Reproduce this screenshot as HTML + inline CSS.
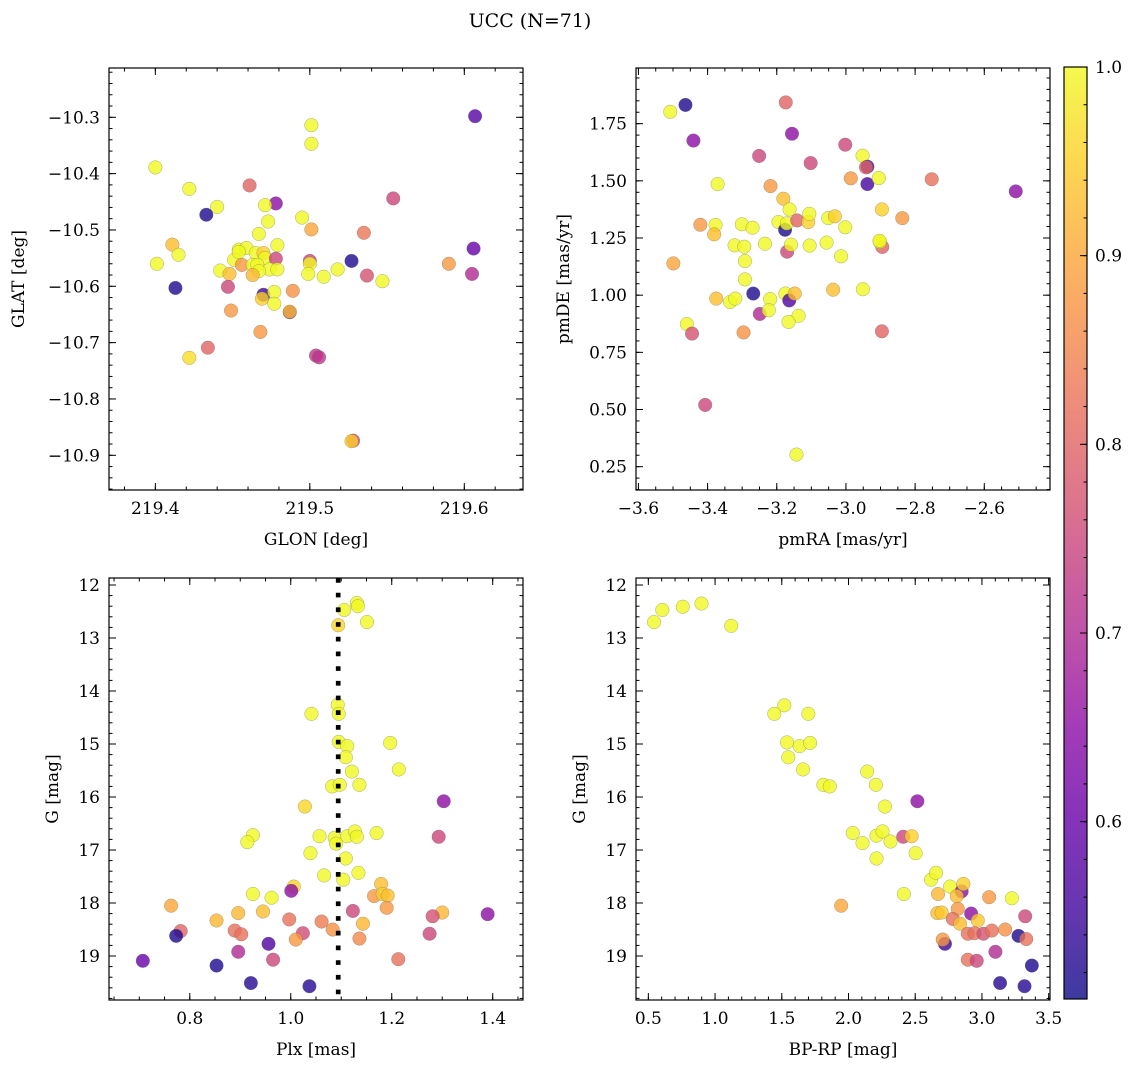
<!DOCTYPE html>
<html><head><meta charset="utf-8">
<style>
html,body{margin:0;padding:0;background:#fff;}
svg{display:block;font-family:"DejaVu Serif","Liberation Serif",serif;}
</style></head>
<body>
<svg id="fig" width="1136" height="1067" viewBox="0 0 1136 1067" xmlns="http://www.w3.org/2000/svg">
<text x="530" y="27" font-size="19" text-anchor="middle">UCC (N=71)</text>
</svg>
<script>
// ---------- data ----------
const glon = [219.607,219.501,219.501,219.400,219.422,219.461,219.478,219.471,219.440,219.433,219.554,219.495,219.473,219.501,219.535,219.467,219.479,219.411,219.415,219.401,219.606,219.527,219.590,219.605,219.500,219.500,219.499,219.509,219.518,219.537,219.547,219.454,219.459,219.451,219.456,219.465,219.470,219.471,219.463,219.466,219.478,219.474,219.479,219.467,219.463,219.442,219.448,219.454,219.447,219.413,219.470,219.469,219.477,219.477,219.489,219.487,219.487,219.449,219.468,219.434,219.422,219.504,219.506,219.528,219.527];
const glat = [-10.298,-10.314,-10.347,-10.389,-10.427,-10.421,-10.453,-10.456,-10.459,-10.473,-10.444,-10.478,-10.485,-10.499,-10.505,-10.507,-10.527,-10.526,-10.544,-10.560,-10.533,-10.555,-10.560,-10.578,-10.555,-10.560,-10.578,-10.583,-10.570,-10.581,-10.591,-10.535,-10.532,-10.553,-10.562,-10.541,-10.541,-10.550,-10.562,-10.562,-10.551,-10.570,-10.570,-10.573,-10.580,-10.572,-10.578,-10.539,-10.601,-10.603,-10.615,-10.622,-10.610,-10.631,-10.608,-10.646,-10.645,-10.643,-10.681,-10.709,-10.727,-10.723,-10.726,-10.874,-10.875];
const prob1 = [0.58,1,1,1,1,0.8,0.65,1,1,0.52,0.75,1,1,0.9,0.83,1,1,0.93,1,1,0.6,0.52,0.88,0.7,0.75,1,1,1,1,0.77,1,1,1,1,0.88,1,0.95,1,1,1,0.75,1,1,1,0.92,1,0.93,1,0.75,0.52,0.55,0.95,1,1,0.87,0.6,0.93,0.88,0.88,0.8,0.97,0.72,0.72,0.75,0.95];

const pmra = [-3.464,-3.508,-3.174,-3.441,-3.156,-3.251,-3.002,-3.102,-2.952,-2.938,-2.942,-2.986,-2.938,-2.905,-2.752,-2.509,-3.371,-3.218,-3.181,-3.163,-2.896,-2.837,-3.421,-3.377,-3.381,-3.301,-3.270,-3.195,-3.176,-3.171,-3.141,-3.109,-3.106,-3.051,-3.032,-3.002,-2.895,-2.902,-3.322,-3.294,-3.234,-3.170,-3.159,-3.105,-3.056,-3.014,-3.499,-3.292,-3.292,-3.268,-3.375,-3.335,-3.320,-3.219,-3.249,-3.223,-3.175,-3.164,-3.148,-3.037,-2.951,-3.137,-3.166,-3.460,-3.445,-3.296,-2.896,-3.407,-3.143,-2.903];
const pmde = [1.832,1.802,1.843,1.676,1.706,1.609,1.658,1.578,1.610,1.562,1.559,1.511,1.486,1.512,1.507,1.454,1.486,1.477,1.422,1.375,1.375,1.337,1.308,1.307,1.266,1.310,1.295,1.320,1.286,1.314,1.327,1.320,1.356,1.337,1.345,1.297,1.211,1.233,1.218,1.212,1.225,1.190,1.221,1.217,1.230,1.170,1.139,1.149,1.069,1.007,0.985,0.970,0.985,0.983,0.918,0.934,1.007,0.977,1.007,1.024,1.026,0.910,0.883,0.874,0.832,0.837,0.842,0.520,0.303,1.238];
const prob2 = [0.52,1,0.8,0.65,0.65,0.75,0.75,0.75,1,0.55,0.8,0.88,0.56,1,0.82,0.65,1,0.88,0.93,1,0.95,0.88,0.88,1,0.93,1,1,1,0.52,1,0.8,0.95,1,1,0.95,1,0.8,1,1,1,1,0.75,1,1,1,1,0.9,1,1,0.52,0.93,1,1,1,0.7,1,1,0.57,0.93,0.93,1,1,1,1,0.77,0.87,0.8,0.75,1,1];

const plx = [1.131,1.133,1.106,1.151,1.094,1.093,1.095,1.041,1.095,1.112,1.197,1.109,1.121,1.214,1.082,1.097,1.136,1.028,1.303,1.293,0.925,0.914,1.057,1.087,1.090,1.112,1.127,1.131,1.170,1.039,1.109,1.066,1.134,1.104,1.179,1.165,1.182,1.192,1.190,1.006,1.001,0.925,0.962,0.763,0.896,0.945,0.853,1.123,1.300,1.281,1.390,0.997,1.061,1.143,1.083,0.889,0.902,1.024,1.010,1.136,0.782,0.773,1.275,0.956,0.896,0.965,1.213,0.707,0.853,0.921,1.037];
const gmag3 = [12.34,12.40,12.47,12.70,12.76,14.26,14.43,14.43,14.96,15.04,14.98,15.25,15.52,15.48,15.80,15.77,15.77,16.18,16.08,16.75,16.72,16.85,16.74,16.77,16.88,16.74,16.65,16.75,16.68,17.06,17.16,17.48,17.43,17.56,17.64,17.87,17.83,17.86,18.09,17.69,17.77,17.83,17.90,18.05,18.19,18.16,18.33,18.15,18.18,18.25,18.21,18.31,18.35,18.39,18.50,18.52,18.59,18.57,18.69,18.67,18.53,18.62,18.58,18.77,18.92,19.07,19.06,19.09,19.18,19.51,19.57];
const prob3 = [1,1,1,1,0.96,1,1,1,1,1,1,1,1,1,1,1,1,0.96,0.65,0.75,1,1,1,1,1,1,1,1,1,1,1,1,1,1,0.93,0.88,0.95,0.93,0.88,0.96,0.65,1,1,0.9,0.92,0.93,0.92,0.75,0.92,0.77,0.65,0.82,0.84,0.92,0.87,0.82,0.82,0.76,0.88,0.86,0.8,0.52,0.75,0.57,0.7,0.75,0.82,0.6,0.52,0.53,0.53];
const plxMean = [1.094];

const bprp = [0.543,0.605,0.758,0.898,1.121,1.444,1.519,1.699,1.539,1.634,1.712,1.549,1.659,1.812,1.860,2.140,2.205,2.273,2.516,2.032,2.105,2.210,2.255,2.315,2.410,2.473,2.210,2.503,2.415,1.945,2.618,2.656,2.761,2.848,2.861,2.671,2.811,3.054,3.224,2.666,2.698,2.819,2.919,2.781,2.836,2.969,3.324,2.894,2.944,3.011,3.074,3.174,3.274,3.332,2.723,2.706,3.101,2.894,2.961,3.374,3.136,3.319];
const gmag4 = [12.70,12.47,12.41,12.35,12.77,14.43,14.27,14.43,14.97,15.04,14.98,15.25,15.48,15.77,15.80,15.52,15.77,16.18,16.08,16.68,16.87,16.73,16.65,16.84,16.75,16.74,17.16,17.06,17.83,18.05,17.56,17.43,17.69,17.78,17.64,17.83,17.87,17.89,17.91,18.19,18.18,18.11,18.20,18.30,18.39,18.33,18.25,18.58,18.57,18.58,18.52,18.50,18.62,18.68,18.77,18.69,18.92,19.07,19.09,19.18,19.51,19.57];
const prob4 = [1,1,1,1,1,1,1,1,1,1,1,1,1,1,1,1,1,1,0.65,1,1,1,1,1,0.75,0.95,1,1,1,0.9,1,1,1,0.65,0.95,0.92,0.93,0.88,1,0.93,0.94,0.88,0.65,0.82,0.93,0.94,0.75,0.82,0.82,0.77,0.82,0.87,0.52,0.82,0.55,0.88,0.7,0.82,0.75,0.52,0.53,0.53];

const cbTicks = [0.6,0.7,0.8,0.9,1.0];

// ---------- helpers ----------
const NS = "http://www.w3.org/2000/svg";
const fig = document.getElementById("fig");
const VMIN = 0.506, VMAX = 1.0;
const plasma = [[13,8,135],[65,4,157],[106,0,168],[143,13,164],[177,42,144],[204,71,120],[225,100,98],[242,132,75],[252,166,54],[252,206,37],[240,249,33]];
function cmap(v){
  let t=(v-VMIN)/(VMAX-VMIN); t=Math.max(0,Math.min(1,t));
  const f=t*10, i=Math.min(9,Math.floor(f)), r=f-i;
  const a=plasma[i], b=plasma[i+1];
  return "rgb("+a.map((c,k)=>Math.round(c+(b[k]-c)*r)).join(",")+")";
}
function el(tag, attrs, parent){
  const e=document.createElementNS(NS,tag);
  for(const k in attrs) e.setAttribute(k,attrs[k]);
  (parent||fig).appendChild(e); return e;
}
function fmt(v,d){ const s=v.toFixed(d); return s.replace("-","\u2212"); }

function panel(cfg){
  const g=el("g",{});
  
  
  const {x0,y0,w,h}=cfg;
  const sx=v=>x0+(v-cfg.xmin)/(cfg.xmax-cfg.xmin)*w;
  const sy=cfg.invertY ? (v=>y0+(v-cfg.ymin)/(cfg.ymax-cfg.ymin)*h) : (v=>y0+h-(v-cfg.ymin)/(cfg.ymax-cfg.ymin)*h);
  // points
  const pg=el("g",{},g);
  
  
  for(let i=0;i<cfg.xs.length;i++){
    const c=el("circle",{cx:sx(cfg.xs[i]),cy:sy(cfg.ys[i]),r:6.8,fill:cmap(cfg.ps[i]),"fill-opacity":0.8,stroke:"#666","stroke-opacity":0.55,"stroke-width":0.5},pg);
    
    
  }
  if(cfg.vline){
    for(const v of cfg.vline){
      const l=el("line",{x1:sx(v),x2:sx(v),y1:y0,y2:y0+h,stroke:"#000","stroke-width":4.7,"stroke-dasharray":"4.7 10"},g);
      
      
    }
  }
  // frame
  const fr=el("rect",{x:x0,y:y0,width:w,height:h,fill:"none",stroke:"#000","stroke-width":1.2},g);
  
  
  // ticks
  const tg=el("g",{stroke:"#000","stroke-width":1},g);
  const eps=1e-9;
  for(let v=Math.ceil(cfg.xmin/cfg.xminor-eps)*cfg.xminor; v<=cfg.xmax+eps; v+=cfg.xminor){
    const X=sx(v);
    el("line",{x1:X,x2:X,y1:y0+h,y2:y0+h-3.5},tg); el("line",{x1:X,x2:X,y1:y0,y2:y0+3.5},tg);
  }
  for(let v=Math.ceil(cfg.ymin/cfg.yminor-eps)*cfg.yminor; v<=cfg.ymax+eps; v+=cfg.yminor){
    const Y=sy(v);
    el("line",{x1:x0,x2:x0+3.5,y1:Y,y2:Y},tg); el("line",{x1:x0+w,x2:x0+w-3.5,y1:Y,y2:Y},tg);
  }
  for(const v of cfg.xticks){
    const X=sx(v);
    el("line",{x1:X,x2:X,y1:y0+h,y2:y0+h-7},tg); el("line",{x1:X,x2:X,y1:y0,y2:y0+7},tg);
    const t=el("text",{x:X,y:y0+h+24,"font-size":17,"text-anchor":"middle"},g);
    t.textContent=fmt(v,cfg.xdec);
    
    
  }
  for(const v of cfg.yticks){
    const Y=sy(v);
    el("line",{x1:x0,x2:x0+7,y1:Y,y2:Y},tg); el("line",{x1:x0+w,x2:x0+w-7,y1:Y,y2:Y},tg);
    const t=el("text",{x:x0-9,y:Y+6,"font-size":17,"text-anchor":"end"},g);
    t.textContent=fmt(v,cfg.ydec);
    
    
  }
  const xl=el("text",{x:x0+w/2,y:y0+h+55,"font-size":17,"text-anchor":"middle"},g);
  xl.textContent=cfg.xlabel;
  
  
  const yl=el("text",{x:0,y:0,"font-size":17,"text-anchor":"middle",transform:"translate("+cfg.ylabX+","+(y0+h/2)+") rotate(-90)"},g);
  yl.textContent=cfg.ylabel;
  
  
}

panel({name:"glon-glat-panel",x0:109,y0:68,w:414,h:422,xmin:219.370,xmax:219.638,ymin:-10.9616,ymax:-10.2125,
  xs:glon,ys:glat,ps:prob1,xticks:[219.4,219.5,219.6],xdec:1,yticks:[-10.3,-10.4,-10.5,-10.6,-10.7,-10.8,-10.9],ydec:1,
  xminor:0.02,yminor:0.02,xlabel:"GLON [deg]",ylabel:"GLAT [deg]",ylabX:24});
panel({name:"pm-panel",x0:636,y0:68,w:414,h:422,xmin:-3.607,xmax:-2.41,ymin:0.148,ymax:1.9935,
  xs:pmra,ys:pmde,ps:prob2,xticks:[-3.6,-3.4,-3.2,-3.0,-2.8,-2.6],xdec:1,yticks:[0.25,0.5,0.75,1.0,1.25,1.5,1.75],ydec:2,
  xminor:0.05,yminor:0.05,xlabel:"pmRA [mas/yr]",ylabel:"pmDE [mas/yr]",ylabX:569});
panel({name:"plx-g-panel",x0:109,y0:578,w:414,h:422,xmin:0.64,xmax:1.46,ymin:11.868,ymax:19.83,invertY:true,
  xs:plx,ys:gmag3,ps:prob3,vline:plxMean,xticks:[0.8,1.0,1.2,1.4],xdec:1,yticks:[12,13,14,15,16,17,18,19],ydec:0,
  xminor:0.05,yminor:0.2,xlabel:"Plx [mas]",ylabel:"G [mag]",ylabX:58});
panel({name:"cmd-panel",x0:636,y0:578,w:414,h:422,xmin:0.4075,xmax:3.51,ymin:11.868,ymax:19.83,invertY:true,
  xs:bprp,ys:gmag4,ps:prob4,xticks:[0.5,1.0,1.5,2.0,2.5,3.0,3.5],xdec:1,yticks:[12,13,14,15,16,17,18,19],ydec:0,
  xminor:0.1,yminor:0.2,xlabel:"BP-RP [mag]",ylabel:"G [mag]",ylabX:585});

// ---------- colorbar ----------
(function(){
  const x0=1064,y0=67,w=23,h=932;
  const cb=el("g",{});
  
  
  const defs=el("defs",{},cb);
  const lg=el("linearGradient",{id:"cbg",x1:0,y1:1,x2:0,y2:0},defs);
  for(let i=0;i<=20;i++){
    const v=VMIN+(VMAX-VMIN)*i/20;
    el("stop",{offset:(i/20),"stop-color":cmap(v),"stop-opacity":0.8},lg);
  }
  el("rect",{x:x0,y:y0,width:w,height:h,fill:"url(#cbg)"},cb);
  el("rect",{x:x0,y:y0,width:w,height:h,fill:"none",stroke:"#000","stroke-width":1.2},cb);
  const sy=v=>y0+h-(v-VMIN)/(VMAX-VMIN)*h;
  for(let v=0.52; v<=1.0001; v+=0.02){
    const Y=sy(v); el("line",{x1:x0+w,x2:x0+w-3.5,y1:Y,y2:Y,stroke:"#000","stroke-width":1},cb);
  }
  for(const v of cbTicks){
    const Y=sy(v);
    el("line",{x1:x0+w,x2:x0+w-7,y1:Y,y2:Y,stroke:"#000","stroke-width":1},cb);
    const t=el("text",{x:x0+w+8,y:Y+6,"font-size":17},cb);
    t.textContent=v.toFixed(1);
    
    
  }
})();
</script>
</body></html>
